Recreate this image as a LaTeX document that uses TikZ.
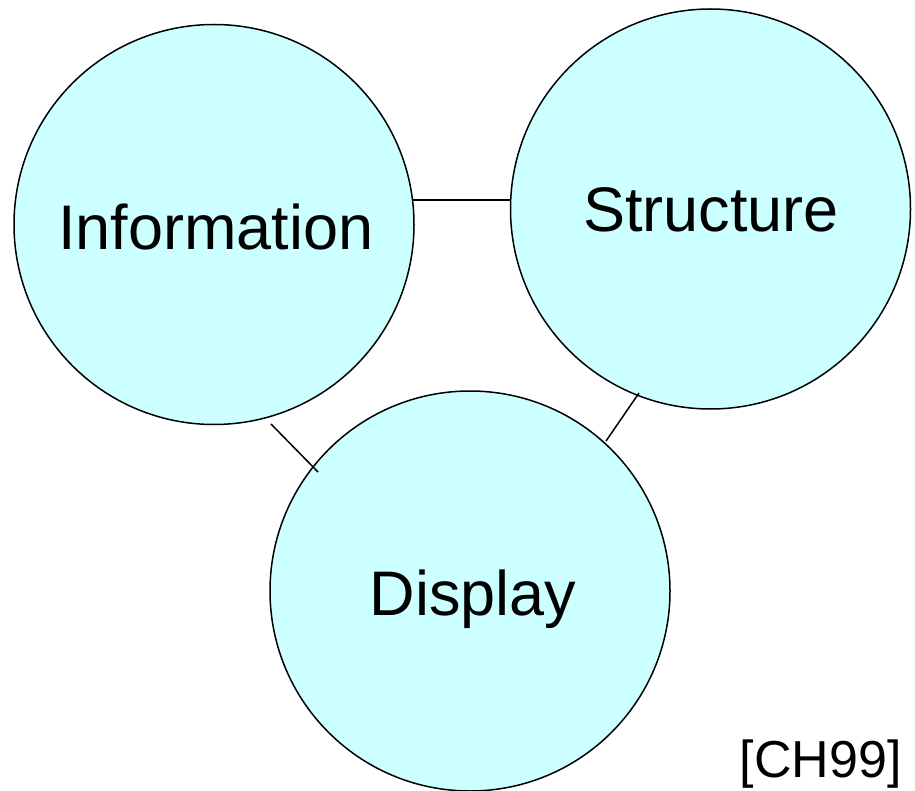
\documentclass[tikz,border=0pt]{standalone}
\usepackage{fontspec}
\setmainfont{Liberation Sans}
\definecolor{bubble}{HTML}{CCFFFF}
\begin{document}
\begin{tikzpicture}[x=1pt,y=-1pt,
  topic/.style={circle,draw=black,line width=1.5pt,fill=bubble,minimum size=400pt,inner sep=0pt},
  label/.style={inner sep=0pt,anchor=base,font=\fontsize{63}{70}\selectfont},
  link/.style={draw=black,line width=1.5pt}]
\useasboundingbox (0,0) rectangle (915,791);

% the three topic circles
\node[topic] (info)   at (214,224.5) {};
\node[topic] (struct) at (710.5,209) {};
\node[topic] (disp)   at (470,591) {};

% their titles
\node[label] (infoT)   at (216,250) {Information};
\node[label] (structT) at (711,232) {Structure};
\node[label] (dispT)   at (473,615) {Display};

% citation
\node[inner sep=0pt,anchor=base east,font=\fontsize{52}{60}\selectfont] (cite) at (902,777) {[CH99]};

% short connectors between the circles
\coordinate (is1) at (413,200);
\coordinate (is2) at (511,200);
\coordinate (id1) at (271,424);
\coordinate (id2) at (318,472);
\coordinate (sd1) at (639,393);
\coordinate (sd2) at (606,441);
\draw[link] (is1) -- (is2);
\draw[link] (id1) -- (id2);
\draw[link] (sd1) -- (sd2);
\end{tikzpicture}
\end{document}
